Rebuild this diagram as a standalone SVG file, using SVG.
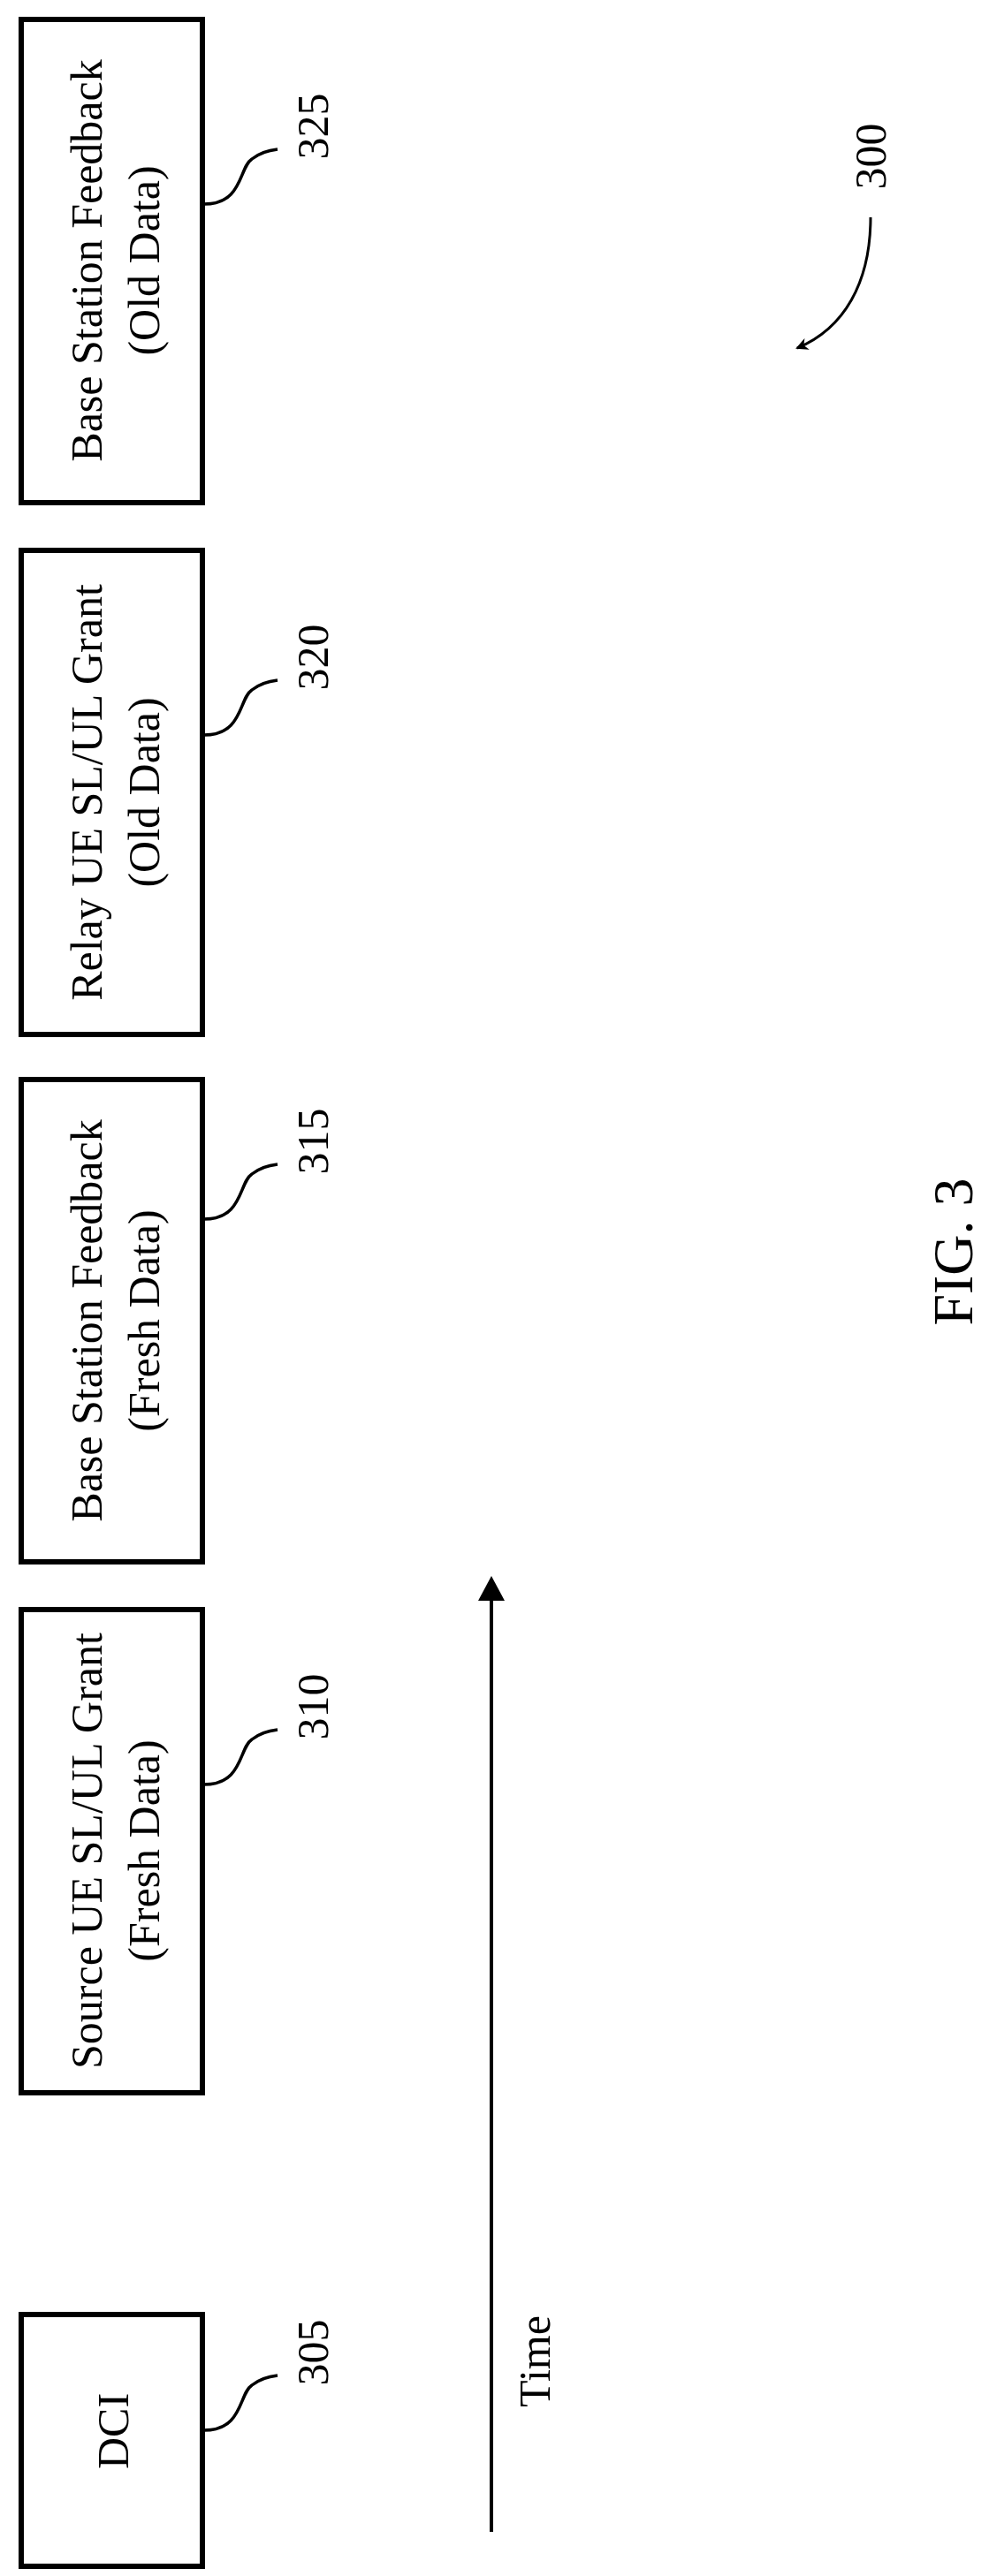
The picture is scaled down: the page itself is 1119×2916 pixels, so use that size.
<svg xmlns="http://www.w3.org/2000/svg" width="1119" height="2916" viewBox="0 0 1119 2916">
<style>
.box{fill:#fff;stroke:#000;stroke-width:6}
.ld{fill:none;stroke:#000;stroke-width:3.5}
text{font-family:"Liberation Serif","Times New Roman",serif;font-size:50px;fill:#000;text-anchor:middle}
</style>
<defs>
<marker id="ah" markerWidth="14" markerHeight="14" refX="12" refY="7" orient="auto" markerUnits="userSpaceOnUse" viewBox="0 0 14 14"><path d="M0,0 L14,7 L0,14 L4,7 z"/></marker>
</defs>
<g id="n325"><rect class="box" x="24" y="22" width="205" height="547"/>
<text transform="translate(115,295) rotate(-90)">Base Station Feedback</text>
<text transform="translate(180,295) rotate(-90)">(Old Data)</text></g>
<g id="n320"><rect class="box" x="24" y="623" width="205" height="548"/>
<text transform="translate(115,897) rotate(-90)">Relay UE SL/UL Grant</text>
<text transform="translate(180,897) rotate(-90)">(Old Data)</text></g>
<g id="n315"><rect class="box" x="24" y="1222" width="205" height="546"/>
<text transform="translate(115,1495) rotate(-90)">Base Station Feedback</text>
<text transform="translate(180,1495) rotate(-90)">(Fresh Data)</text></g>
<g id="n310"><rect class="box" x="24" y="1822" width="205" height="547"/>
<text transform="translate(115,2095) rotate(-90)">Source UE SL/UL Grant</text>
<text transform="translate(180,2095) rotate(-90)">(Fresh Data)</text></g>
<g id="n305"><rect class="box" x="24" y="2620" width="205" height="285"/>
<text transform="translate(145,2752) rotate(-90)">DCI</text></g>
<g id="labels">
<text transform="translate(371,143) rotate(-90)">325</text>
<text transform="translate(371,744) rotate(-90)">320</text>
<text transform="translate(371,1292) rotate(-90)">315</text>
<text transform="translate(371,1932) rotate(-90)">310</text>
<text transform="translate(371,2663) rotate(-90)">305</text>
<text transform="translate(1002,177) rotate(-90)">300</text>
<text transform="translate(622,2673) rotate(-90)">Time</text>
<text style="font-size:64px" transform="translate(1100,1417) rotate(-90)">FIG. 3</text>
</g>
<g id="connectors">
<path class="ld" d="M231,231 C275,231 270,190 285,180 C295,172 305,170 314,169"/>
<path class="ld" d="M231,832 C275,832 270,791 285,781 C295,773 305,771 314,770"/>
<path class="ld" d="M231,1380 C275,1380 270,1339 285,1329 C295,1321 305,1319 314,1318"/>
<path class="ld" d="M231,2020 C275,2020 270,1979 285,1969 C295,1961 305,1959 314,1958"/>
<path class="ld" d="M231,2751 C275,2751 270,2710 285,2700 C295,2692 305,2690 314,2689"/>
<path class="ld" d="M985,246 C985,320 955,372 902,394" marker-end="url(#ah)" style="stroke-width:3"/>
<line x1="556" y1="2866" x2="556" y2="1800" stroke="#000" stroke-width="4"/>
<path d="M556,1784 L541,1812 L571,1812 z"/>
</g>
</svg>
